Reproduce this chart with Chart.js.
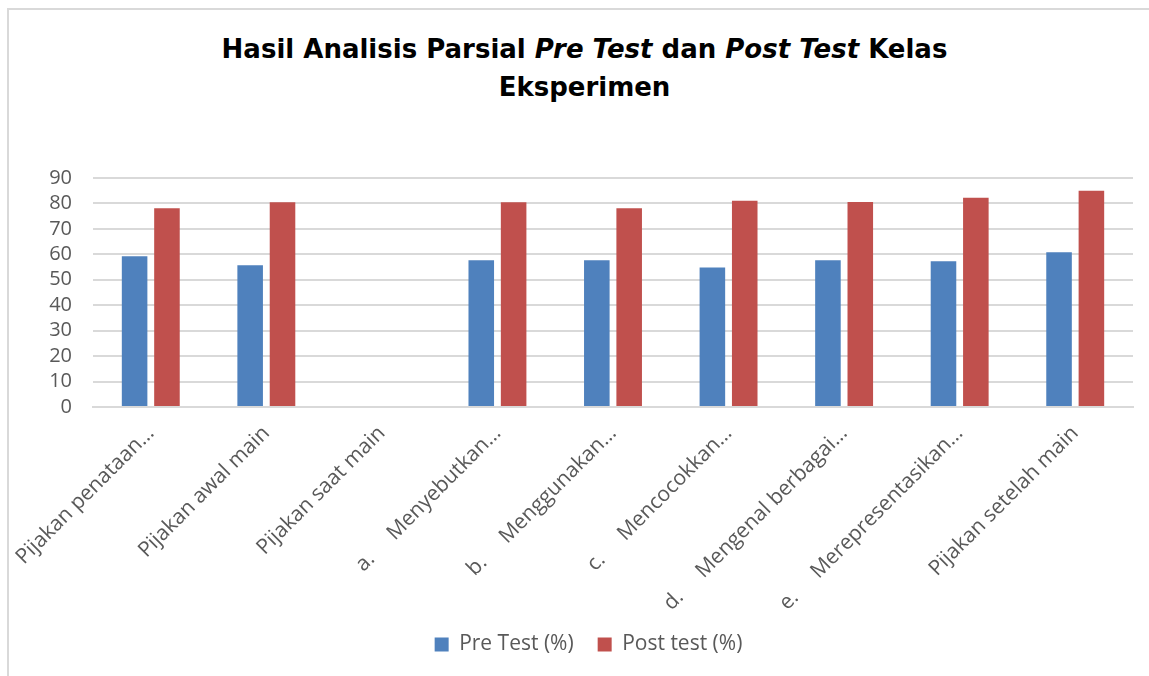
<!DOCTYPE html>
<html>
<head>
<meta charset="utf-8">
<script src="https://cdn.jsdelivr.net/npm/chart.js@4"></script>
<style>
  html, body { margin: 0; padding: 0; background: #fff; }
  #wrap { position: relative; width: 1149px; height: 676px; overflow: hidden; }
  #frame { position: absolute; left: 7px; top: 8px; width: 1200px; height: 700px; border: 2px solid #d9d9d9; box-sizing: border-box; }
  #title {
    position: absolute; left: 10px; top: 30px; width: 1149px; text-align: center;
    font-family: "DejaVu Sans", sans-serif; font-weight: bold;
    font-size: 26px; line-height: 38px; color: #000;
  }
  canvas { position: absolute; left: 0; top: 0; }
</style>
</head>
<body>
<div id="wrap">
  <div id="frame"></div>
  <div id="title">Hasil Analisis Parsial <i>Pre Test</i> dan <i>Post Test</i> Kelas<br>Eksperimen</div>
  <canvas id="chart" width="1149" height="676"></canvas>
</div>
<script>
"use strict";

const labels = [
  "Pijakan penataan…",
  "Pijakan awal main",
  "Pijakan saat main",
  "a.     Menyebutkan…",
  "b.     Menggunakan…",
  "c.     Mencocokkan…",
  "d.     Mengenal berbagai…",
  "e.     Merepresentasikan…",
  "Pijakan setelah main",
];
const preTest = [59.2, 55.7, null, 57.7, 57.7, 54.8, 57.7, 57.3, 60.8];
const postTest = [78.1, 80.5, null, 80.5, 78.1, 81.1, 80.6, 82.2, 85.0];

const font = "'Open Sans', 'Liberation Sans', sans-serif";
const grey = "#595959";

new Chart(document.getElementById("chart"), {
  type: "bar",
  data: {
    labels,
    datasets: [
      { label: "Pre Test (%)", data: preTest, backgroundColor: "#4f81bd" },
      { label: "Post test (%)", data: postTest, backgroundColor: "#c0504d" },
    ],
  },
  options: {
    responsive: false, animation: false,
    // left padding pushes the legend's centre to where the reference has it
    layout: { padding: { top: 178, right: 16, bottom: 11, left: 44 } },
    datasets: { bar: { categoryPercentage: 0.56, barPercentage: 0.79 } },
    plugins: {
      tooltip: { enabled: false },
      legend: {
        position: "bottom",
        labels: { color: grey, font: { family: font, size: 21 }, boxWidth: 14, boxHeight: 14, padding: 24 },
      },
    },
    scales: {
      x: {
        grid: { display: false },
        border: { color: "#d9d9d9", width: 2 },
        ticks: { color: grey, font: { family: font, size: 21 }, minRotation: 45, maxRotation: 45, padding: 6 },
        afterFit: (s) => { s.height = 203; },
      },
      y: {
        min: 0, max: 90,
        grid: { color: "#d9d9d9", lineWidth: 2, drawTicks: false },
        border: { display: false },
        ticks: { stepSize: 10, autoSkip: false, color: grey, font: { family: font, size: 20 }, padding: 21 },
        afterFit: (s) => { s.width = 49; },
      },
    },
  },
});
</script>
</body>
</html>
